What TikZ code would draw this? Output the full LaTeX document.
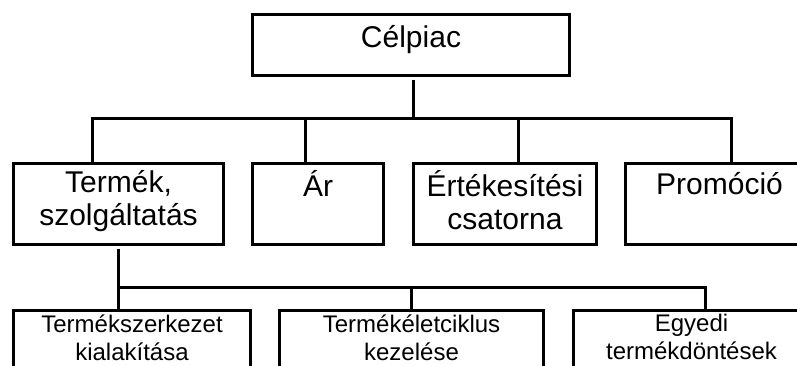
\documentclass[tikz,border=0pt]{standalone}
\usepackage{fontspec}
\setmainfont{Liberation Sans}
\begin{document}
\begin{tikzpicture}[x=1pt, y=-1pt,
        doboz/.style={draw, line width=3pt, inner sep=0pt, anchor=north west},
        nagy/.style={font=\fontsize{30}{33}\selectfont, align=center, inner sep=0pt, anchor=north, execute at begin node=\strut},
        kicsi/.style={font=\fontsize{24}{28}\selectfont, align=center, inner sep=0pt, anchor=north, execute at begin node=\strut},
        vonal/.style={line width=3pt, line join=miter}]
        \useasboundingbox (0, 0) rectangle (797, 365);
        \clip (0, 0) rectangle (797, 365);
        \node[doboz, minimum width=317pt, minimum height=61pt] (celpiac) at (251, 12.5) {};
        \node[doboz, minimum width=210pt, minimum height=81pt] (termek) at (12, 161.5) {};
        \node[doboz, minimum width=131pt, minimum height=81pt] (ar) at (251, 161.5) {};
        \node[doboz, minimum width=183pt, minimum height=81pt] (ertek) at (412, 161.5) {};
        \node[doboz, minimum width=188pt, minimum height=81pt] (promo) at (624, 161.5) {};
        \node[doboz, minimum width=237pt, minimum height=90pt] (kialak) at (12, 308.5) {};
        \node[doboz, minimum width=264pt, minimum height=90pt] (eletc) at (278, 308.5) {};
        \node[doboz, minimum width=236pt, minimum height=90pt] (egyedi) at (572, 308.5) {};
        \node[nagy, yshift=-11.6pt] (celpiac-t) at (celpiac.north) {Célpiac};
        \node[nagy, yshift=-9.2pt] (termek-t) at (termek.north) {Termék,\\szolgáltatás};
        \node[nagy, yshift=-9.2pt] (ar-t) at (ar.north) {Ár};
        \node[nagy, yshift=-9.2pt] (ertek-t) at (ertek.north) {Értékesítési\\csatorna};
        \node[nagy, yshift=-9.2pt] (promo-t) at (promo.north) {Promóció};
        \node[kicsi, yshift=-5.7pt] (kialak-t) at (kialak.north) {Termékszerkezet\\kialakítása};
        \node[kicsi, yshift=-5.7pt] (eletc-t) at (eletc.north) {Termékéletciklus\\kezelése};
        \node[kicsi, yshift=-5.7pt] (egyedi-t) at (egyedi.north) {Egyedi\\termékdöntések};
        \coordinate (sin1) at (92.5, 118.5);
        \coordinate (sin2) at (305.5, 118.5);
        \coordinate (sin3) at (518.5, 118.5);
        \coordinate (sin4) at (731.5, 118.5);
        \coordinate (al1) at (118, 287.5);
        \coordinate (al2) at (411.5, 287.5);
        \coordinate (al3) at (705.5, 287.5);
        \draw[vonal] ([xshift=2pt, yshift=-3pt]celpiac.south) -- ([xshift=2pt]celpiac.south |- sin1);
        \draw[vonal] (sin1 |- termek.north) -- (sin1) -- (sin4) -- (sin4 |- promo.north);
        \draw[vonal] (sin2) -- (sin2 |- ar.north);
        \draw[vonal] (sin3) -- (sin3 |- ertek.north);
        \draw[vonal] ([yshift=-3pt]termek.south) -- (termek.south |- kialak.north);
        \draw[vonal] (termek.south |- al1) -- (al3) -- (al3 |- egyedi.north);
        \draw[vonal] (al2) -- (al2 |- eletc.north);
    \end{tikzpicture}
\end{document}
